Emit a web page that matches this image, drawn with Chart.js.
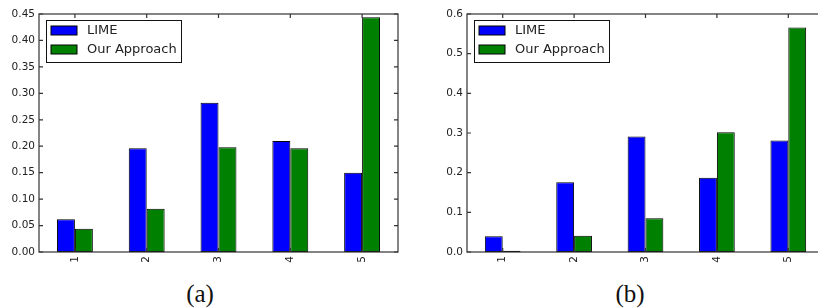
<!DOCTYPE html>
<html>
<head>
<meta charset="utf-8">
<script src="https://cdn.jsdelivr.net/npm/chart.js@4/dist/chart.umd.min.js"></script>
<style>
  html, body { margin: 0; padding: 0; background: #fff; width: 818px; height: 308px; overflow: hidden; position: relative; }
  .wrap { position: absolute; top: 0; }
  .cap { position: absolute; font-family: "Liberation Serif", "DejaVu Serif", serif; font-size: 25px; color: #111; transform: translate(-50%, -50%); white-space: nowrap; }
</style>
</head>
<body>
<div class="wrap" style="left:0px;width:400px;height:275px;"><canvas id="ca"></canvas></div>
<div class="wrap" style="left:427px;width:399px;height:275px;"><canvas id="cb"></canvas></div>
<div class="cap" style="left:200px;top:294px;">(a)</div>
<div class="cap" style="left:630px;top:294px;">(b)</div>
<script>
// ---- data ----
const categories = ['1', '2', '3', '4', '5'];
const seriesNames = ['LIME', 'Our Approach'];
const limeA = [0.062, 0.196, 0.282, 0.210, 0.150];
const oursA = [0.044, 0.082, 0.198, 0.196, 0.444];
const limeB = [0.040, 0.176, 0.291, 0.187, 0.281];
const oursB = [0.003, 0.041, 0.085, 0.302, 0.566];
const yTickLabelsA = ['0.00', '0.05', '0.10', '0.15', '0.20', '0.25', '0.30', '0.35', '0.40', '0.45'];
const yTickLabelsB = ['0.0', '0.1', '0.2', '0.3', '0.4', '0.5', '0.6'];

const COLORS = ['#0000ff', '#008000'];
const AXIS = '#333';
const TEXT = '#222';

const framePlugin = {
  id: 'frame',
  afterDraw(chart) {
    const ctx = chart.ctx;
    const a = chart.chartArea;
    const xs = chart.scales.x, ys = chart.scales.y;
    ctx.save();
    ctx.strokeStyle = AXIS;
    ctx.lineWidth = 1.2;
    ctx.strokeRect(a.left, a.top, a.right - a.left, a.bottom - a.top);
    const tl = 4;
    ctx.beginPath();
    xs.ticks.forEach((t, i) => {
      const px = xs.getPixelForTick(i);
      ctx.moveTo(px, a.bottom); ctx.lineTo(px, a.bottom - tl);
      ctx.moveTo(px, a.top); ctx.lineTo(px, a.top + tl);
    });
    ys.ticks.forEach((t, i) => {
      const py = ys.getPixelForTick(i);
      ctx.moveTo(a.left, py); ctx.lineTo(a.left + tl, py);
      ctx.moveTo(a.right, py); ctx.lineTo(a.right - tl, py);
    });
    ctx.stroke();
    // legend
    const lx = a.left + 7, ly = a.top + 6, lw = 135, lh = 42;
    ctx.fillStyle = '#fff';
    ctx.fillRect(lx, ly, lw, lh);
    ctx.strokeStyle = '#111';
    ctx.lineWidth = 1;
    ctx.strokeRect(lx + 0.5, ly + 0.5, lw, lh);
    ctx.font = '13px "DejaVu Sans"';
    ctx.textBaseline = 'middle';
    chart.data.datasets.forEach((ds, i) => {
      const cy = ly + 10.5 + i * 19;
      ctx.fillStyle = ds.backgroundColor;
      ctx.fillRect(lx + 5, cy - 4.5, 26, 9);
      ctx.strokeStyle = '#000';
      ctx.strokeRect(lx + 5, cy - 4.5, 26, 9);
      ctx.fillStyle = TEXT;
      ctx.fillText(ds.label, lx + 41, cy + 0.5);
    });
    ctx.restore();
  }
};

function makeChart(id, lime, ours, yMax, yStep, yLabels, yWidth) {
  return new Chart(document.getElementById(id), {
    type: 'bar',
    data: {
      labels: categories,
      datasets: [
        { label: seriesNames[0], data: lime, backgroundColor: COLORS[0], borderColor: '#000', borderWidth: 1, borderSkipped: false },
        { label: seriesNames[1], data: ours, backgroundColor: COLORS[1], borderColor: '#000', borderWidth: 1, borderSkipped: false }
      ]
    },
    options: {
      responsive: true,
      maintainAspectRatio: false,
      animation: false,
      layout: { padding: { top: 14, right: 2, left: 0, bottom: 0 } },
      datasets: { bar: { categoryPercentage: 0.5, barPercentage: 1.0 } },
      plugins: { legend: { display: false }, tooltip: { enabled: false } },
      scales: {
        x: {
          grid: { display: false, drawTicks: false },
          border: { display: false },
          ticks: { color: TEXT, font: { family: 'DejaVu Sans', size: 10.5 }, minRotation: 90, maxRotation: 90, padding: 4 },
          afterFit(s) { s.height = 23; }
        },
        y: {
          min: 0, max: yMax,
          grid: { display: false, drawTicks: false },
          border: { display: false },
          ticks: {
            stepSize: yStep, color: TEXT, font: { family: 'DejaVu Sans', size: 10.5 }, padding: 4,
            callback: (v, i) => yLabels[i]
          },
          afterFit(s) { s.width = yWidth; }
        }
      }
    },
    plugins: [framePlugin]
  });
}

makeChart('ca', limeA, oursA, 0.45, 0.05, yTickLabelsA, 39);
makeChart('cb', limeB, oursB, 0.6, 0.1, yTickLabelsB, 40);
</script>
</body>
</html>
